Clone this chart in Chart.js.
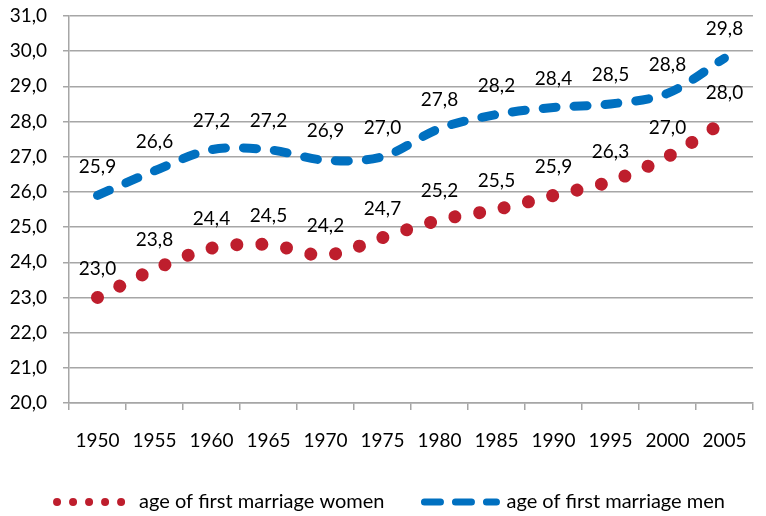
<!DOCTYPE html>
<html>
<head>
<meta charset="utf-8">
<script src="https://cdn.jsdelivr.net/npm/chart.js@4.4.1/dist/chart.umd.min.js"></script>
<style>
  html, body { margin: 0; padding: 0; background: #fff; }
</style>
</head>
<body>
<canvas id="marriageChart" width="766" height="516"></canvas>
<script>
// data
const years = ['1950', '1955', '1960', '1965', '1970', '1975', '1980', '1985', '1990', '1995', '2000', '2005'];
const womenAge = [23.0, 23.8, 24.4, 24.5, 24.2, 24.7, 25.2, 25.5, 25.9, 26.3, 27.0, 28.0];
const menAge = [25.9, 26.6, 27.2, 27.2, 26.9, 27.0, 27.8, 28.2, 28.4, 28.5, 28.8, 29.8];
const yRange = [20, 31];
const seriesNames = ['age of first marriage women', 'age of first marriage men'];

const FONT = 'Lato';
const gridGrey = '#a6a6a6';

// decimal comma, like the original
const fmt = v => v.toFixed(1).replace('.', ',');

// values written above every point
const valueLabels = {
  id: 'valueLabels',
  afterDatasetsDraw(chart) {
    const ctx = chart.ctx;
    ctx.save();
    ctx.font = '19px ' + FONT;
    ctx.fillStyle = '#000';
    ctx.textAlign = 'center';
    ctx.textBaseline = 'middle';
    chart.data.datasets.forEach((ds, i) => {
      chart.getDatasetMeta(i).data.forEach((pt, j) => {
        ctx.fillText(fmt(ds.data[j]), pt.x, pt.y - 29);
      });
    });
    ctx.restore();
  }
};

// legend row sits a little right of centre in the original
const legendNudge = {
  id: 'legendNudge',
  afterLayout(chart) {
    chart.legend.left += 8;
    chart.legend.right += 8;
  }
};

const ctx = document.getElementById('marriageChart').getContext('2d');

const marriageChart = new Chart(ctx, {
  type: 'line',
  data: {
    labels: years,
    datasets: [{
      label: seriesNames[0],
      data: womenAge,
      borderColor: '#be1e2d',
      backgroundColor: '#be1e2d',
      borderWidth: 13,
      borderDash: [0.01, 25],
      borderCapStyle: 'round',
      borderJoinStyle: 'round',
      tension: 0.33,
      pointRadius: 0,
      legendWidth: 8,
      legendDash: [0.01, 16]
    }, {
      label: seriesNames[1],
      data: menAge,
      borderColor: '#0070c0',
      backgroundColor: '#0070c0',
      borderWidth: 9,
      borderDash: [13, 18],
      borderCapStyle: 'round',
      borderJoinStyle: 'round',
      tension: 0.33,
      pointRadius: 0,
      legendWidth: 7,
      legendDash: [16, 15]
    }]
  },
  options: {
    responsive: false,
    animation: false,
    events: [],
    layout: {
      padding: { left: 0, right: 0, top: 16, bottom: -6 }
    },
    scales: {
      x: {
        type: 'category',
        offset: true,
        grid: {
          offset: true,
          drawOnChartArea: false,
          drawTicks: true,
          tickLength: 7,
          color: gridGrey,
          lineWidth: 1.5
        },
        border: { display: true, color: gridGrey, width: 1.5 },
        ticks: {
          color: '#000',
          font: { family: FONT, size: 19 },
          padding: 19.5,
          maxRotation: 0,
          autoSkip: false
        },
        afterFit(scale) { scale.height = 49; }
      },
      y: {
        min: yRange[0],
        max: yRange[1],
        grid: {
          color: gridGrey,
          lineWidth: 1.5,
          drawTicks: true,
          tickLength: 6
        },
        border: { display: true, color: gridGrey, width: 1.5 },
        ticks: {
          stepSize: 1,
          color: '#000',
          font: { family: FONT, size: 19 },
          padding: 16,
          callback: v => fmt(v)
        },
        afterFit(scale) {
          scale.width = 69;
          scale.paddingTop = 0;
          scale.paddingBottom = 0;
        }
      }
    },
    plugins: {
      tooltip: { enabled: false },
      legend: {
        position: 'bottom',
        labels: {
          usePointStyle: true,
          pointStyle: 'line',
          pointStyleWidth: 72,
          padding: 40,
          color: '#000',
          font: { family: FONT, size: 20 },
          generateLabels(chart) {
            return chart.data.datasets.map((ds, i) => ({
              text: ds.label,
              fillStyle: ds.borderColor,
              strokeStyle: ds.borderColor,
              lineWidth: ds.legendWidth,
              lineDash: ds.legendDash,
              lineCap: 'round',
              pointStyle: 'line',
              hidden: false,
              datasetIndex: i
            }));
          }
        }
      }
    }
  },
  plugins: [valueLabels, legendNudge]
});
</script>
</body>
</html>
